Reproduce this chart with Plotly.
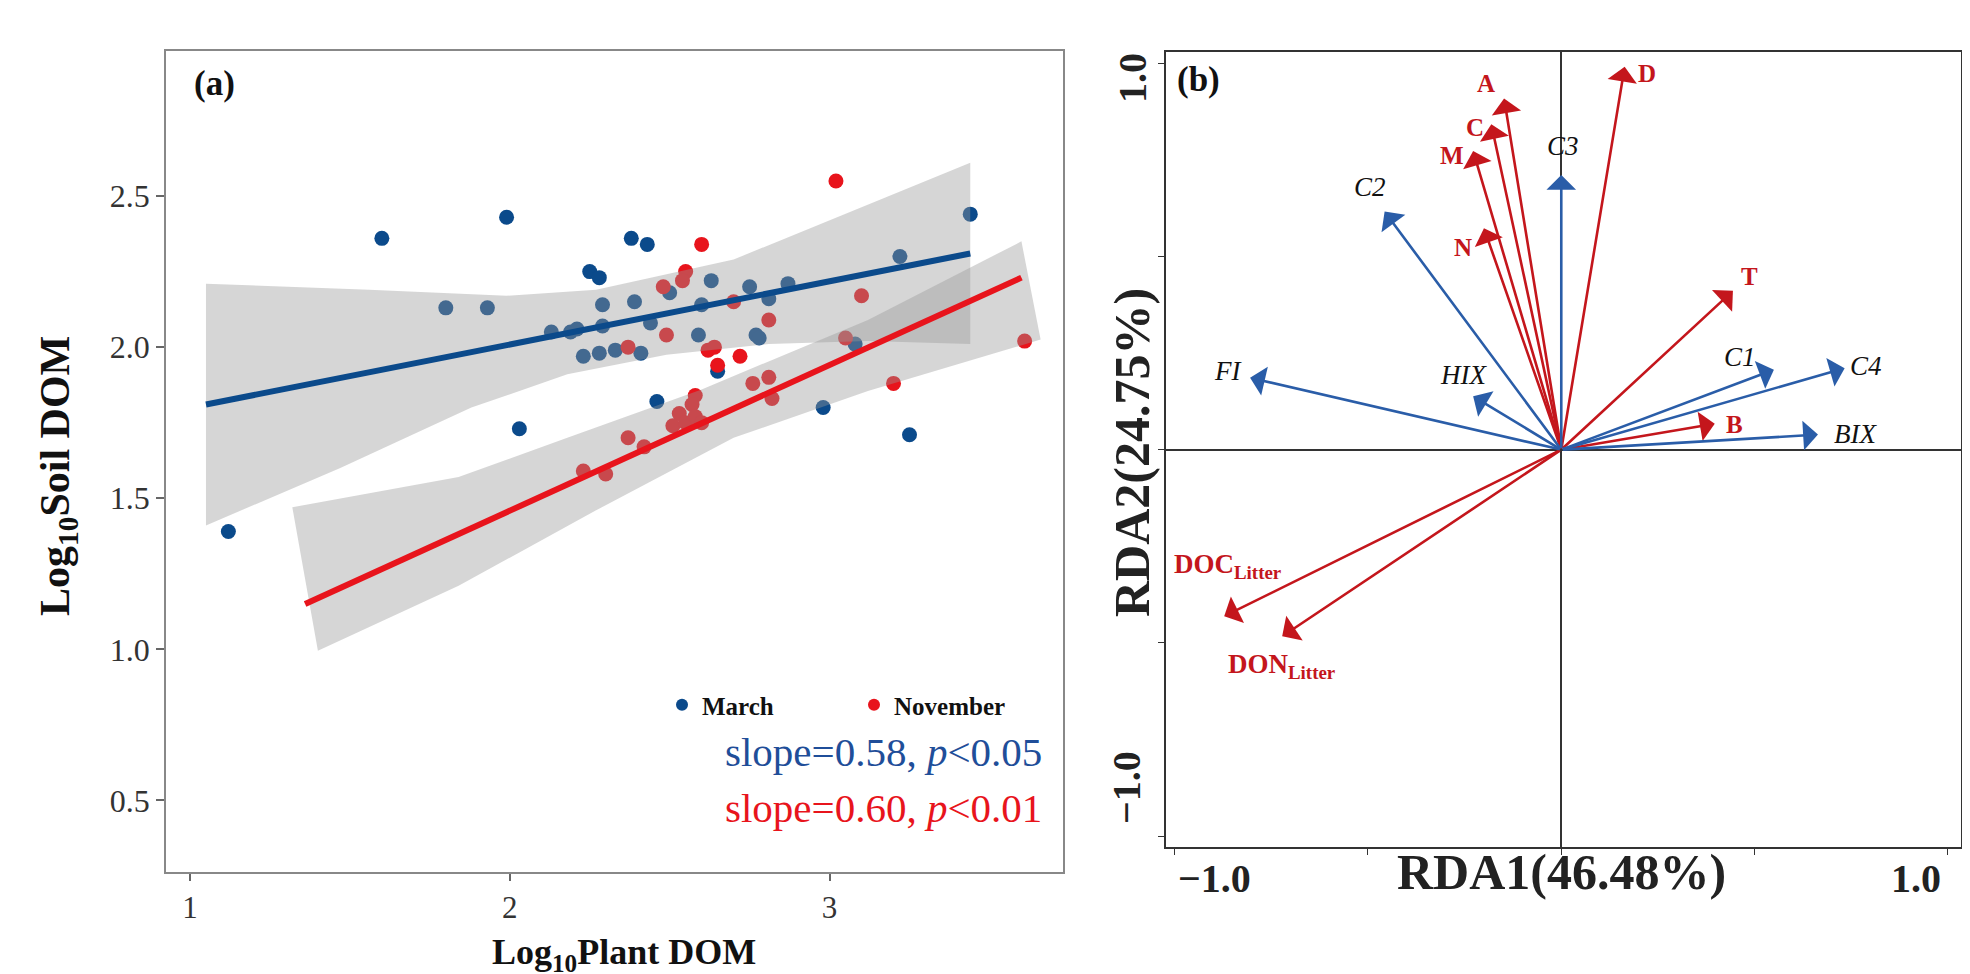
"""Soil vs plant DOM regression (a) and RDA biplot (b)."""

import plotly.graph_objects as go

SERIF = "Liberation Serif"
BLUE = "#0B4A8B"
RED = "#E8141C"
ARROW_RED = "#C4161C"
ARROW_BLUE = "#2A5DA8"
BAND = "rgba(153,153,153,0.4)"

# ---- panel (a): Log10 plant DOM vs Log10 soil DOM ----
march_x = [1.12, 1.60, 1.99, 1.80, 1.93, 2.13, 2.19, 2.21, 2.23, 2.28, 2.33, 2.29,
           2.29, 2.25, 2.28, 2.38, 2.43, 2.39, 2.41, 2.44, 2.46, 2.03, 2.50, 2.59,
           2.60, 2.63, 2.65, 2.75, 2.77, 2.78, 2.81, 2.87, 2.98, 3.08, 3.22, 3.25,
           3.44]
march_y = [1.39, 2.36, 2.43, 2.13, 2.13, 2.05, 2.05, 2.06, 1.97, 1.98, 1.99, 2.14,
           2.07, 2.25, 2.23, 2.36, 2.34, 2.15, 1.98, 2.08, 1.82, 1.73, 2.18, 2.04,
           2.14, 2.22, 1.92, 2.20, 2.04, 2.03, 2.16, 2.21, 1.80, 2.01, 2.30, 1.71,
           2.44]
nov_x = [3.02, 2.60, 2.55, 2.54, 2.48, 2.70, 2.49, 2.37, 2.62, 2.64, 2.65, 2.72,
         2.81, 2.81, 2.76, 2.58, 2.57, 2.53, 2.51, 2.55, 2.58, 2.60, 2.82, 2.37,
         2.42, 2.23, 2.30, 3.10, 3.05, 3.20, 3.61]
nov_y = [2.55, 2.34, 2.25, 2.22, 2.20, 2.15, 2.04, 2.00, 1.99, 2.00, 1.94, 1.97,
         2.09, 1.90, 1.88, 1.84, 1.81, 1.78, 1.74, 1.75, 1.77, 1.75, 1.83, 1.70,
         1.67, 1.59, 1.58, 2.17, 2.03, 1.88, 2.02]

# fitted lines and confidence bands
march_fit_x = [1.05, 3.44]
march_fit_y = [1.81, 2.31]
nov_fit_x = [1.36, 3.60]
nov_fit_y = [1.15, 2.23]

march_up_x = [1.05, 1.56, 1.99, 2.27, 2.70, 3.09, 3.44]
march_up_y = [2.21, 2.19, 2.17, 2.19, 2.29, 2.46, 2.61]
march_lo_x = [1.05, 1.47, 1.88, 2.18, 2.49, 2.81, 3.12, 3.44]
march_lo_y = [1.41, 1.60, 1.80, 1.91, 1.975, 2.01, 2.02, 2.01]
nov_up_x = [1.32, 1.84, 2.18, 2.60, 3.12, 3.60]
nov_up_y = [1.47, 1.57, 1.70, 1.86, 2.09, 2.35]
nov_lo_x = [1.40, 1.84, 2.27, 2.70, 3.12, 3.66]
nov_lo_y = [0.995, 1.21, 1.46, 1.70, 1.855, 2.025]

# ---- panel (b): RDA loadings ----
env_names = ["A", "C", "M", "N", "D", "T", "B",
             "DOC<sub>Litter</sub>", "DON<sub>Litter</sub>"]
env_x = [-0.148, -0.181, -0.228, -0.200, 0.164, 0.444, 0.397, -0.872, -0.722]
env_y = [0.909, 0.842, 0.773, 0.573, 0.991, 0.411, 0.067, -0.431, -0.483]
env_lab_x = [-0.194, -0.224, -0.283, -0.254, 0.222, 0.487, 0.447, -0.863, -0.725]
env_lab_y = [0.948, 0.834, 0.761, 0.522, 0.974, 0.448, 0.065, -0.300, -0.560]

dom_names = ["C2", "C3", "FI", "HIX", "C1", "C4", "BIX"]
dom_x = [-0.457, 0.000, -0.805, -0.228, 0.550, 0.733, 0.664]
dom_y = [0.616, 0.711, 0.186, 0.138, 0.207, 0.211, 0.039]
dom_lab_x = [-0.496, 0.005, -0.863, -0.253, 0.463, 0.789, 0.760]
dom_lab_y = [0.681, 0.785, 0.203, 0.194, 0.241, 0.217, 0.041]

W, H = 1970, 974


def px(x):
    return x / W


def py(y):
    return 1 - y / H


def label(x, y, text, size, color="#111", angle=0, xanchor="center"):
    return dict(x=px(x), y=py(y), xref="paper", yref="paper", text=text,
                showarrow=False, textangle=angle, xanchor=xanchor, yanchor="middle",
                font=dict(family=SERIF, size=size, color=color))


fig = go.Figure()

# points first, then the smoother bands and lines on top (as in ggplot)
fig.add_trace(go.Scatter(x=march_x, y=march_y, mode="markers", name="March",
                         marker=dict(color=BLUE, size=15), xaxis="x", yaxis="y"))
fig.add_trace(go.Scatter(x=nov_x, y=nov_y, mode="markers", name="November",
                         marker=dict(color=RED, size=15), xaxis="x", yaxis="y"))

for ux, uy, lx, ly in [(march_up_x, march_up_y, march_lo_x, march_lo_y),
                       (nov_up_x, nov_up_y, nov_lo_x, nov_lo_y)]:
    fig.add_trace(go.Scatter(x=ux + lx[::-1], y=uy + ly[::-1], fill="toself",
                             fillcolor=BAND, line=dict(width=0), mode="lines",
                             showlegend=False, hoverinfo="skip",
                             xaxis="x", yaxis="y"))

fig.add_trace(go.Scatter(x=march_fit_x, y=march_fit_y, mode="lines",
                         line=dict(color=BLUE, width=6), showlegend=False,
                         xaxis="x", yaxis="y"))
fig.add_trace(go.Scatter(x=nov_fit_x, y=nov_fit_y, mode="lines",
                         line=dict(color=RED, width=6), showlegend=False,
                         xaxis="x", yaxis="y"))

# empty trace so panel (b) axes are drawn
fig.add_trace(go.Scatter(x=[0], y=[0], mode="markers", marker=dict(size=1, opacity=0),
                         showlegend=False, hoverinfo="skip", xaxis="x2", yaxis="y2"))

ann = []

# arrows of panel (b)
for xs, ys, col in [(env_x, env_y, ARROW_RED), (dom_x, dom_y, ARROW_BLUE)]:
    for x, y in zip(xs, ys):
        ann.append(dict(x=x, y=y, ax=0, ay=0, xref="x2", yref="y2",
                        axref="x2", ayref="y2", text="", showarrow=True,
                        arrowhead=1, arrowsize=1.9, arrowwidth=2.6,
                        arrowcolor=col, standoff=0, startstandoff=0))

for name, x, y in zip(env_names, env_lab_x, env_lab_y):
    size = 27 if "Litter" in name else 25
    ann.append(dict(x=x, y=y, xref="x2", yref="y2", text=name, showarrow=False,
                    xanchor="center", yanchor="middle",
                    font=dict(family=SERIF, size=size, color=ARROW_RED, weight="bold")))
for name, x, y in zip(dom_names, dom_lab_x, dom_lab_y):
    ann.append(dict(x=x, y=y, xref="x2", yref="y2", text=name, showarrow=False,
                    xanchor="center", yanchor="middle",
                    font=dict(family=SERIF, size=27, color="#111", style="italic")))

# panel labels, axis titles, stats
ann += [
    label(206, 75, "<b>(a)</b>", 35),
    label(1190, 72, "<b>(b)</b>", 35),
    label(616, 946, "<b>Log<sub>10</sub>Plant DOM</b>", 36),
    label(50, 468, "<b>Log<sub>10</sub>Soil DOM</b>", 42, angle=-90),
    label(1036, 744, "slope=0.58, <i>p</i>&lt;0.05", 41, "#1F4E99", xanchor="right"),
    label(1036, 800, "slope=0.60, <i>p</i>&lt;0.01", 41, RED, xanchor="right"),
    label(1553, 864, "<b>RDA1(46.48%)</b>", 50, "#222"),
    label(1124, 445, "<b>RDA2(24.75%)</b>", 50, "#222", angle=-90),
    label(1206, 870, "<b>\u22121.0</b>", 40, "#222"),
    label(1908, 870, "<b>1.0</b>", 40, "#222"),
    label(1124, 70, "<b>1.0</b>", 40, "#222", angle=-90),
    label(1118, 780, "<b>\u22121.0</b>", 40, "#222", angle=-90),
]

fig.update_layout(
    width=W, height=H, autosize=False,
    margin=dict(l=0, r=0, t=0, b=0),
    paper_bgcolor="white", plot_bgcolor="white",
    font=dict(family=SERIF, color="#333"),
    annotations=ann,
    legend=dict(orientation="h", x=px(654), y=py(697), xanchor="left",
                yanchor="middle", entrywidth=147, entrywidthmode="pixels",
                itemsizing="constant", bgcolor="rgba(0,0,0,0)",
                font=dict(family=SERIF, size=25, color="#111", weight="bold")),
    xaxis=dict(domain=[px(158), px(1055)], range=[0.925, 3.73],
               tickvals=[1, 2, 3], ticks="outside", ticklen=7, tickcolor="#666",
               tickwidth=1.5, tickfont=dict(size=31, color="#333"),
               showgrid=False, zeroline=False,
               showline=True, mirror=True, linecolor="#888", linewidth=1.5),
    yaxis=dict(domain=[py(864), py(43)], range=[0.263, 2.98],
               tickvals=[0.5, 1.0, 1.5, 2.0, 2.5],
               ticktext=["0.5", "1.0", "1.5", "2.0", "2.5"],
               ticks="outside", ticklen=8, tickcolor="#666", tickwidth=1.5,
               tickfont=dict(size=32, color="#333"), showgrid=False, zeroline=False,
               showline=True, mirror=True, linecolor="#888", linewidth=1.5),
    xaxis2=dict(domain=[px(1158), px(1953)], range=[-1.0225, 1.034], anchor="y2",
                tickvals=[-1, -0.5, 0, 0.5, 1], ticks="outside", ticklen=6,
                tickcolor="#333", showticklabels=False, showgrid=False,
                zeroline=True, zerolinecolor="#333", zerolinewidth=1.5,
                showline=True, mirror=True, linecolor="#333", linewidth=1.8),
    yaxis2=dict(domain=[py(839), py(44)], range=[-1.028, 1.029], anchor="x2",
                tickvals=[-1, -0.5, 0, 0.5, 1], ticks="outside", ticklen=6,
                tickcolor="#333", showticklabels=False, showgrid=False,
                zeroline=True, zerolinecolor="#333", zerolinewidth=1.5,
                showline=True, mirror=True, linecolor="#333", linewidth=1.8),
)

fig.write_html("out.html")
